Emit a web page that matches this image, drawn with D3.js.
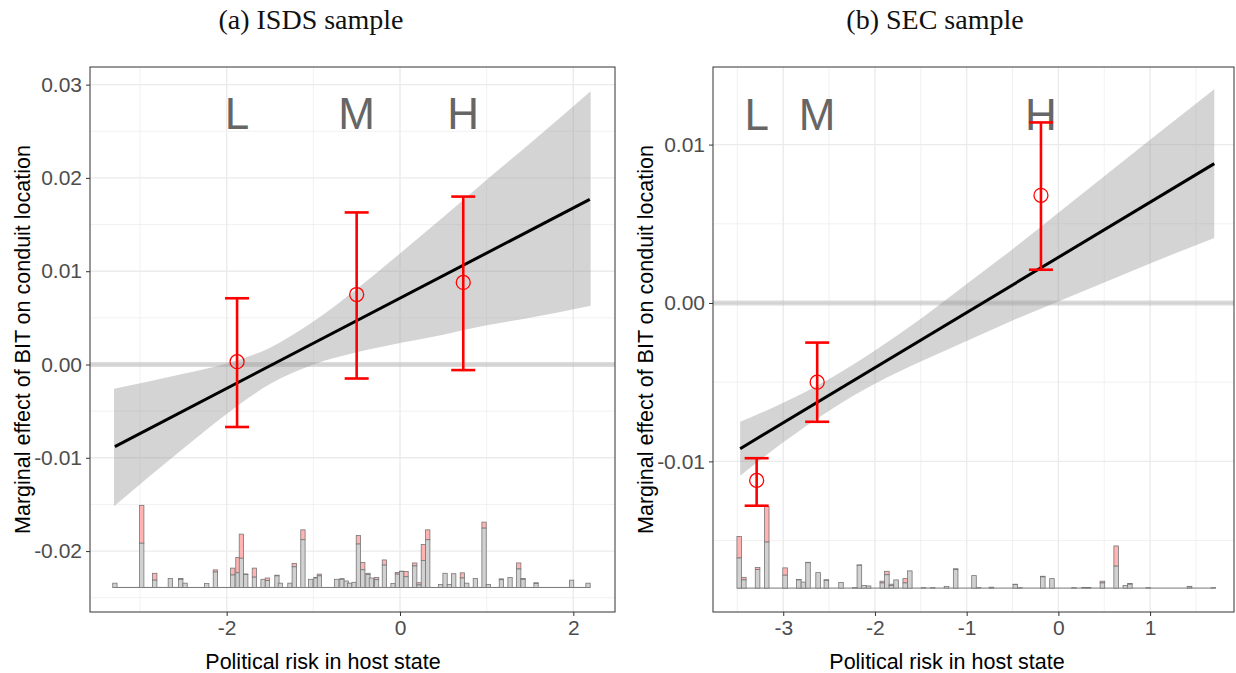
<!DOCTYPE html>
<html>
<head>
<meta charset="utf-8">
<script src="https://cdn.jsdelivr.net/npm/d3@7"></script>
<style>
  body { margin: 0; background: #fff; }
  svg text { font-family: "Liberation Sans", Arial, sans-serif; }
  svg text.title { font-family: "Liberation Serif", "DejaVu Serif", serif; }
</style>
</head>
<body>
<svg id="chart" width="1236" height="673"></svg>
<script>
//------------------------------DATA------------------------------//
// (a) ISDS sample
const isdsTicksX = [-2, 0, 2];
const isdsMinorX = [-3, -1, 1];
const isdsTicksY = [-0.02, -0.01, 0.00, 0.01, 0.02, 0.03];
const isdsMinorY = [-0.025, -0.015, -0.005, 0.005, 0.015, 0.025];
const isdsBandX  = [-3.3, -2.5, -2, -1.5, -1, -0.5, 0, 0.5, 1, 1.5, 2.2];
const isdsBandLo = [-0.0152, -0.0090, -0.0053, -0.0021, 0.0000, 0.0013, 0.0023, 0.0032, 0.0042, 0.0050, 0.0063];
const isdsBandHi = [-0.0026, -0.0010, 0.0001, 0.0018, 0.0046, 0.0081, 0.0119, 0.0158, 0.0198, 0.0237, 0.0293];
const isdsLineX  = [-3.29, 2.19];
const isdsLineY  = [-0.0088, 0.0177];
const isdsGroups = ["L", "M", "H"];
const isdsPtX    = [-1.88, -0.50, 0.73];
const isdsPtY    = [0.0003, 0.0075, 0.0088];
const isdsCiLo   = [-0.0067, -0.0015, -0.0006];
const isdsCiHi   = [0.0071, 0.0163, 0.0180];
const isdsHistX  = [-3.29, -2.98, -2.83, -2.65, -2.53, -2.48, -2.23, -2.13, -1.93, -1.87, -1.83, -1.78, -1.68, -1.58, -1.53,
                    -1.42, -1.38, -1.27, -1.22, -1.12, -1.03, -0.97, -0.93, -0.73, -0.67, -0.62, -0.58, -0.53, -0.48, -0.43,
                    -0.37, -0.33, -0.27, -0.18, -0.08, -0.03, 0.02, 0.07, 0.17, 0.22, 0.27, 0.32, 0.47, 0.52, 0.57,
                    0.62, 0.72, 0.77, 0.87, 0.97, 1.02, 1.17, 1.27, 1.37, 1.42, 1.57, 1.98, 2.17];
const isdsHistGrey = [1.0, 10.3, 1.7, 2.1, 1.9, 1.0, 0.9, 3.6, 2.9, 3.4, 6.8, 3.0, 2.4, 1.9, 1.6,
                      2.7, 1.0, 1.0, 4.8, 11.1, 1.9, 2.2, 2.7, 1.9, 1.9, 1.5, 1.0, 1.2, 10.1, 4.1,
                      3.0, 2.2, 1.8, 5.2, 0.9, 3.1, 3.7, 2.5, 5.0, 0.6, 6.3, 11.1, 0.7, 3.3, 0.7,
                      3.2, 2.2, 1.0, 2.1, 13.8, 0.7, 1.8, 2.3, 4.3, 1.9, 0.9, 1.7, 1.0];
const isdsHistPink = [0, 8.8, 1.6, 0, 0.2, 0, 0, 0.5, 1.6, 3.6, 5.6, 0.15, 2.1, 0, 0.6,
                      0.15, 0, 0, 0.8, 2.3, 0, 0.15, 0.4, 0, 0.15, 0, 0, 0, 2.0, 1.7,
                      0.3, 0, 0.5, 1.2, 0, 0.4, 0.1, 1.2, 0.7, 0.5, 3.7, 2.3, 0, 0, 0,
                      0, 1.2, 0, 0, 1.4, 0, 0.2, 0, 1.4, 0.2, 0.2, 0, 0];

// (b) SEC sample
const secTicksX = [-3, -2, -1, 0, 1];
const secMinorX = [-3.5, -2.5, -1.5, -0.5, 0.5, 1.5];
const secTicksY = [-0.01, 0.00, 0.01];
const secMinorY = [-0.015, -0.005, 0.005, 0.015];
const secBandX  = [-3.47, -3, -2.5, -2, -1.5, -1, -0.5, 0, 0.5, 1, 1.7];
const secBandLo = [-0.0109, -0.0088, -0.0068, -0.0051, -0.0037, -0.0024, -0.0011, 0.0001, 0.0013, 0.0025, 0.0041];
const secBandHi = [-0.0075, -0.0063, -0.0048, -0.0030, -0.0010, 0.0012, 0.0034, 0.0057, 0.0080, 0.0103, 0.0135];
const secLineX  = [-3.47, 1.70];
const secLineY  = [-0.0092, 0.0088];
const secGroups = ["L", "M", "H"];
const secPtX    = [-3.29, -2.63, -0.19];
const secPtY    = [-0.0112, -0.0050, 0.0068];
const secCiLo   = [-0.0128, -0.0075, 0.0021];
const secCiHi   = [-0.0098, -0.0025, 0.0114];
const secHistX  = [-3.48, -3.43, -3.28, -3.18, -2.98, -2.83, -2.78, -2.73, -2.62, -2.53, -2.37, -2.22, -2.17, -2.12,
                   -2.07, -1.92, -1.87, -1.82, -1.77, -1.67, -1.62, -1.47, -1.37, -1.22, -1.12, -0.92, -0.87, -0.73,
                   -0.47, -0.42, -0.17, -0.07, 0.17, 0.28, 0.33, 0.48, 0.63, 0.73, 0.78, 0.98, 1.43, 1.69];
const secHistGrey = [7.0, 1.9, 4.3, 10.7, 3.0, 1.9, 1.4, 5.9, 3.6, 1.8, 1.3, 0.1, 5.3, 0.6,
                     0.5, 1.2, 3.1, 0.6, 1.9, 1.2, 4.0, 0.1, 0.1, 0.4, 4.3, 2.9, 0.1, 0.2,
                     0.8, 0.1, 2.6, 2.2, 0.1, 0.15, 0.15, 1.2, 5.1, 0.6, 0.9, 0.1, 0.3, 0.1];
const secHistPink = [5.0, 0.6, 0.5, 8.3, 1.7, 0.1, 0, 0.1, 0, 0.15, 0, 0, 0.1, 0,
                     0, 0.4, 0.8, 0.3, 0, 1.0, 0, 0, 0, 0, 0.2, 0, 0, 0,
                     0.1, 0, 0.15, 0, 0, 0, 0, 0.4, 4.7, 0, 0.15, 0, 0.1, 0];

const titles = ["(a) ISDS sample", "(b) SEC sample"];
const xTitle = "Political risk in host state";
const yTitle = "Marginal effect of BIT on conduit location";

//---------------------------PANELS-------------------------------//
const panels = [
  { id: "a", title: titles[0], left: 90, right: 615, top: 67, bottom: 612,
    xDomain: [-3.577, 2.481], yDomain: [-0.02653, 0.03189],
    ticksX: isdsTicksX, minorX: isdsMinorX, ticksY: isdsTicksY, minorY: isdsMinorY,
    bandX: isdsBandX, bandLo: isdsBandLo, bandHi: isdsBandHi, lineX: isdsLineX, lineY: isdsLineY,
    groups: isdsGroups, ptX: isdsPtX, ptY: isdsPtY, ciLo: isdsCiLo, ciHi: isdsCiHi, letterY: 0.0269,
    histX: isdsHistX, histGrey: isdsHistGrey, histPink: isdsHistPink, histBase: -0.0239,
    titleX: 311, xTitleX: 323, yTitleX: 22 },
  { id: "b", title: titles[1], left: 713, right: 1234, top: 67, bottom: 612,
    xDomain: [-3.766, 1.915], yDomain: [-0.01951, 0.0149],
    ticksX: secTicksX, minorX: secMinorX, ticksY: secTicksY, minorY: secMinorY,
    bandX: secBandX, bandLo: secBandLo, bandHi: secBandHi, lineX: secLineX, lineY: secLineY,
    groups: secGroups, ptX: secPtX, ptY: secPtY, ciLo: secCiLo, ciHi: secCiHi, letterY: 0.0119,
    histX: secHistX, histGrey: secHistGrey, histPink: secHistPink, histBase: -0.0180,
    titleX: 935, xTitleX: 947, yTitleX: 645 }
];

const svg = d3.select("#chart");
const binW = 0.05;
// histogram counts -> pixel heights (same for both panels)
const histScale = d3.scaleLinear().domain([0, 10]).range([0, 43]);
// plain hyphen for negative numbers, as in the original figure
const fmtX = d => d3.format("d")(d).replace("\u2212", "-");
const fmtY = d => d3.format(".2f")(d).replace("\u2212", "-");

panels.forEach(function (p) {
  const x = d3.scaleLinear().domain(p.xDomain).range([p.left, p.right]);
  const y = d3.scaleLinear().domain(p.yDomain).range([p.bottom, p.top]);

  svg.append("clipPath").attr("id", "clip-" + p.id)
    .append("rect")
    .attr("x", p.left).attr("y", p.top)
    .attr("width", p.right - p.left).attr("height", p.bottom - p.top);

  const g = svg.append("g").attr("clip-path", "url(#clip-" + p.id + ")");

  // grid
  g.selectAll(".minx").data(p.minorX).enter().append("line")
    .attr("x1", d => x(d)).attr("x2", d => x(d))
    .attr("y1", p.top).attr("y2", p.bottom)
    .attr("stroke", "#ebebeb").attr("stroke-width", 0.7);
  g.selectAll(".miny").data(p.minorY).enter().append("line")
    .attr("y1", d => y(d)).attr("y2", d => y(d))
    .attr("x1", p.left).attr("x2", p.right)
    .attr("stroke", "#ebebeb").attr("stroke-width", 0.7);
  g.selectAll(".majx").data(p.ticksX).enter().append("line")
    .attr("x1", d => x(d)).attr("x2", d => x(d))
    .attr("y1", p.top).attr("y2", p.bottom)
    .attr("stroke", "#ebebeb").attr("stroke-width", 1.4);
  g.selectAll(".majy").data(p.ticksY).enter().append("line")
    .attr("y1", d => y(d)).attr("y2", d => y(d))
    .attr("x1", p.left).attr("x2", p.right)
    .attr("stroke", "#ebebeb").attr("stroke-width", 1.4);

  // zero reference line
  g.append("line")
    .attr("x1", p.left).attr("x2", p.right)
    .attr("y1", y(0)).attr("y2", y(0))
    .attr("stroke", "#b0b0b0").attr("stroke-opacity", 0.45).attr("stroke-width", 5);

  // confidence band
  const band = d3.area()
    .x((d, i) => x(p.bandX[i]))
    .y0(d => y(d[0]))
    .y1(d => y(d[1]))
    .curve(d3.curveMonotoneX);
  g.append("path")
    .datum(p.bandLo.map((v, i) => [v, p.bandHi[i]]))
    .attr("d", band)
    .attr("fill", "#999999").attr("fill-opacity", 0.42);

  // fitted line
  const line = d3.line().x((d, i) => x(p.lineX[i])).y(d => y(d));
  g.append("path").datum(p.lineY)
    .attr("d", line)
    .attr("fill", "none").attr("stroke", "#000").attr("stroke-width", 3);

  // histogram
  const base = y(p.histBase);
  g.append("line")
    .attr("x1", x(p.histX[0] - binW / 2)).attr("x2", x(p.histX[p.histX.length - 1] + binW / 2))
    .attr("y1", base).attr("y2", base)
    .attr("stroke", "#777").attr("stroke-width", 1);
  const bars = g.selectAll(".bar").data(p.histX).enter().append("g");
  bars.append("rect")
    .attr("x", d => x(d - binW / 2))
    .attr("width", d => x(d + binW / 2) - x(d - binW / 2))
    .attr("y", (d, i) => base - histScale(p.histGrey[i] + p.histPink[i]))
    .attr("height", (d, i) => histScale(p.histPink[i]))
    .attr("fill", "#ffb3b3").attr("stroke", "#777").attr("stroke-width", 0.8);
  bars.append("rect")
    .attr("x", d => x(d - binW / 2))
    .attr("width", d => x(d + binW / 2) - x(d - binW / 2))
    .attr("y", (d, i) => base - histScale(p.histGrey[i]))
    .attr("height", (d, i) => histScale(p.histGrey[i]))
    .attr("fill", "#d1d1d1").attr("stroke", "#777").attr("stroke-width", 0.8);

  // group letters
  g.selectAll(".letter").data(p.groups).enter().append("text")
    .attr("x", (d, i) => x(p.ptX[i]))
    .attr("y", y(p.letterY))
    .attr("dy", "0.36em")
    .attr("text-anchor", "middle")
    .attr("font-size", 44)
    .attr("fill", "#666")
    .text(d => d);

  // error bars
  const eb = g.selectAll(".eb").data(p.groups).enter().append("g")
    .attr("stroke", "#ff0000").attr("stroke-width", 2.6).attr("fill", "none");
  eb.append("line")
    .attr("x1", (d, i) => x(p.ptX[i])).attr("x2", (d, i) => x(p.ptX[i]))
    .attr("y1", (d, i) => y(p.ciLo[i])).attr("y2", (d, i) => y(p.ciHi[i]));
  eb.append("line")
    .attr("x1", (d, i) => x(p.ptX[i]) - 12).attr("x2", (d, i) => x(p.ptX[i]) + 12)
    .attr("y1", (d, i) => y(p.ciLo[i])).attr("y2", (d, i) => y(p.ciLo[i]));
  eb.append("line")
    .attr("x1", (d, i) => x(p.ptX[i]) - 12).attr("x2", (d, i) => x(p.ptX[i]) + 12)
    .attr("y1", (d, i) => y(p.ciHi[i])).attr("y2", (d, i) => y(p.ciHi[i]));
  eb.append("circle")
    .attr("cx", (d, i) => x(p.ptX[i])).attr("cy", (d, i) => y(p.ptY[i]))
    .attr("r", 7).attr("stroke-width", 1.3);

  // border
  svg.append("rect")
    .attr("x", p.left).attr("y", p.top)
    .attr("width", p.right - p.left).attr("height", p.bottom - p.top)
    .attr("fill", "none").attr("stroke", "#333").attr("stroke-width", 1);

  // axes
  const xAxis = d3.axisBottom(x).tickValues(p.ticksX).tickSize(4).tickPadding(4).tickFormat(fmtX);
  const yAxis = d3.axisLeft(y).tickValues(p.ticksY).tickSize(4).tickPadding(4).tickFormat(fmtY);
  const gx = svg.append("g").attr("transform", "translate(0," + p.bottom + ")").call(xAxis);
  const gy = svg.append("g").attr("transform", "translate(" + p.left + ",0)").call(yAxis);
  [gx, gy].forEach(function (a) {
    a.select(".domain").remove();
    a.selectAll(".tick line").attr("stroke", "#333").attr("stroke-width", 1);
    a.selectAll(".tick text").attr("fill", "#4d4d4d").attr("font-size", 21)
      .style("font-family", "'Liberation Sans', Arial, sans-serif");
  });

  // titles
  svg.append("text")
    .attr("class", "title")
    .attr("x", p.titleX).attr("y", 29)
    .attr("text-anchor", "middle")
    .attr("font-size", 28)
    .attr("fill", "#111")
    .text(p.title);
  svg.append("text")
    .attr("x", p.xTitleX).attr("y", 669)
    .attr("text-anchor", "middle")
    .attr("font-size", 21.5)
    .attr("fill", "#000")
    .text(xTitle);
  svg.append("text")
    .attr("transform", "translate(" + p.yTitleX + "," + ((p.top + p.bottom) / 2) + ") rotate(-90)")
    .attr("dy", "0.36em")
    .attr("text-anchor", "middle")
    .attr("font-size", 21.5)
    .attr("fill", "#000")
    .text(yTitle);
});
</script>
</body>
</html>
